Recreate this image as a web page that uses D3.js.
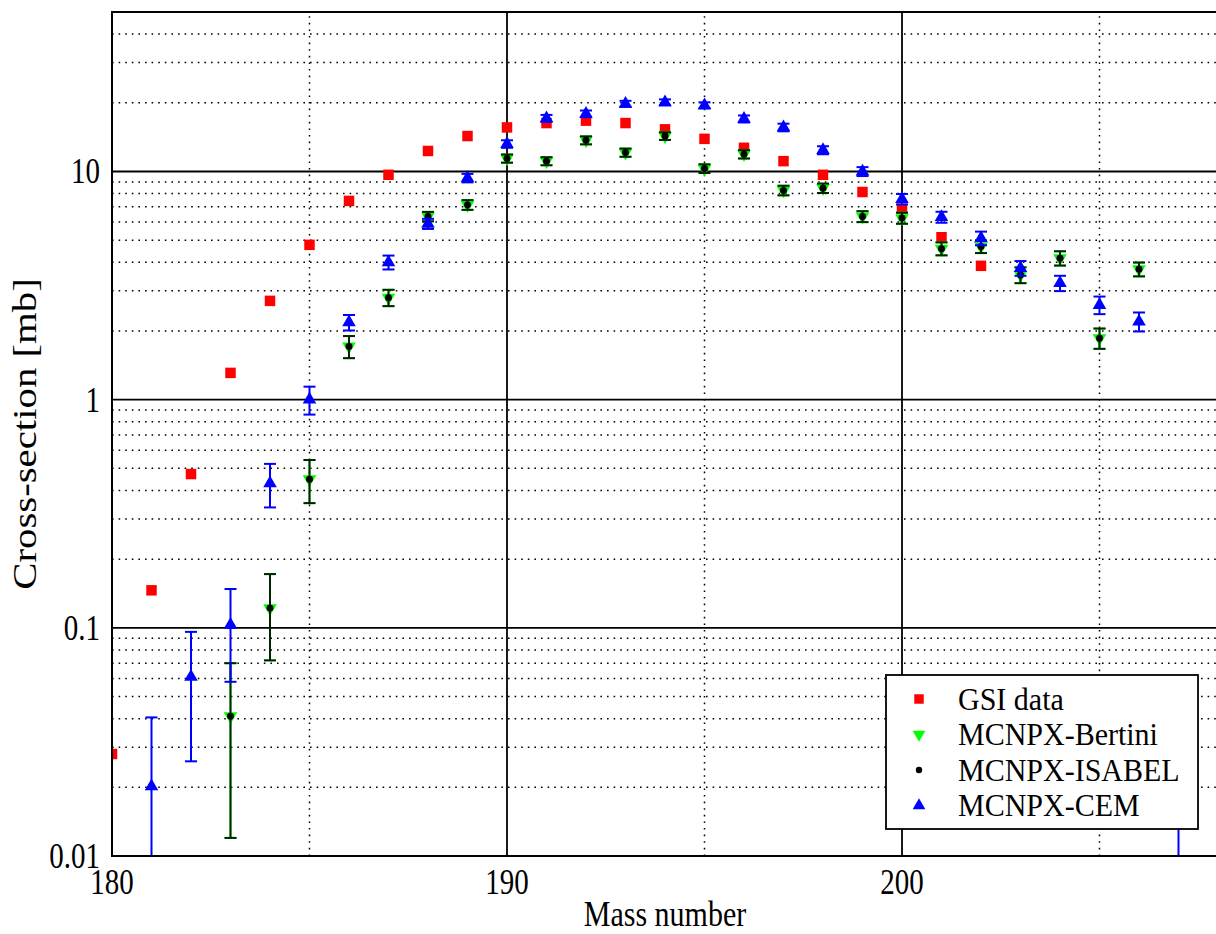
<!DOCTYPE html>
<html>
<head>
<meta charset="utf-8">
<script src="https://cdn.jsdelivr.net/npm/d3@7"></script>
<style>
  body { margin: 0; background: #fff; }
  text { font-family: "Liberation Serif", "Times New Roman", serif; fill: #000; }
</style>
</head>
<body>
<div id="chart"></div>
<script>
// GSI measurement
let gsiMass = [180, 181, 182, 183, 184, 185, 186, 187, 188, 189, 190, 191, 192, 193, 194, 195, 196, 197, 198, 199, 200, 201, 202];
let gsiValues = [0.028, 0.146, 0.472, 1.31, 2.71, 4.77, 7.43, 9.67, 12.3, 14.3, 15.6, 16.3, 16.7, 16.3, 15.3, 13.9, 12.7, 11.1, 9.67, 8.13, 6.86, 5.15, 3.86];

// MCNPX Bertini
let bertiniMass = [183, 184, 185, 186, 187, 188, 189, 190, 191, 192, 193, 194, 195, 196, 197, 198, 199, 200, 201, 202, 203, 204, 205, 206];
let bertiniValues = [0.041, 0.122, 0.448, 1.71, 2.80, 6.35, 7.14, 11.4, 11.1, 13.7, 12.1, 14.3, 10.3, 11.9, 8.26, 8.45, 6.35, 6.25, 4.59, 4.69, 3.52, 4.17, 1.86, 3.73];
let bertiniErrors = [0.029, 0.05, 0.096, 0.19, 0.23, 0.3, 0.35, 0.47, 0.45, 0.55, 0.5, 0.55, 0.45, 0.5, 0.4, 0.4, 0.35, 0.35, 0.3, 0.3, 0.28, 0.3, 0.19, 0.26];

// MCNPX ISABEL
let isabelMass = [183, 184, 185, 186, 187, 188, 189, 190, 191, 192, 193, 194, 195, 196, 197, 198, 199, 200, 201, 202, 203, 204, 205, 206];
let isabelValues = [0.041, 0.122, 0.448, 1.71, 2.80, 6.35, 7.14, 11.4, 11.1, 13.7, 12.1, 14.3, 10.3, 11.9, 8.26, 8.45, 6.35, 6.25, 4.59, 4.69, 3.52, 4.17, 1.86, 3.73];
let isabelErrors = [0.029, 0.05, 0.096, 0.19, 0.23, 0.3, 0.35, 0.47, 0.45, 0.55, 0.5, 0.55, 0.45, 0.5, 0.4, 0.4, 0.35, 0.35, 0.3, 0.3, 0.28, 0.3, 0.19, 0.26];

// MCNPX CEM
let cemMass = [181, 182, 183, 184, 185, 186, 187, 188, 189, 190, 191, 192, 193, 194, 195, 196, 197, 198, 199, 200, 201, 202, 203, 204, 205, 206, 207];
let cemValues = [0.0202, 0.061, 0.103, 0.43, 1.0, 2.18, 4.0, 5.9, 9.36, 13.2, 17.1, 17.9, 19.8, 20.1, 19.5, 17.0, 15.6, 12.4, 10.0, 7.57, 6.31, 5.10, 3.77, 3.24, 2.60, 2.20, 0.006];
let cemErrors = [0.0203, 0.035, 0.045, 0.093, 0.14, 0.17, 0.28, 0.3, 0.4, 0.5, 0.6, 0.6, 0.6, 0.6, 0.6, 0.6, 0.6, 0.5, 0.45, 0.4, 0.35, 0.35, 0.28, 0.25, 0.23, 0.21, 0.0075];

let xTicks = [180, 190, 200];
let xMinorGrid = [185, 195, 205];
let yTicks = [0.01, 0.1, 1, 10];
let yTickLabels = ["0.01", "0.1", "1", "10"];
let legendLabels = ["GSI data", "MCNPX-Bertini", "MCNPX-ISABEL", "MCNPX-CEM"];

let width = 1216;
let height = 934;
let margin = { top: 12, left: 112, right: -2, bottom: 78 };
let stretch = 1.2; // text in the source is a bit taller than wide

let x = d3.scaleLinear()
    .domain([180, 208])
    .range([margin.left, width - margin.right]);

let y = d3.scaleLog()
    .domain([0.01, 50])
    .range([height - margin.bottom, margin.top]);

let svg = d3.select("#chart").append("svg")
    .attr("width", width)
    .attr("height", height);

svg.append("defs").append("clipPath")
    .attr("id", "plot-clip")
    .append("rect")
    .attr("x", x(180))
    .attr("y", y(50))
    .attr("width", x(208) - x(180))
    .attr("height", y(0.01) - y(50));

let grid = svg.append("g").attr("class", "grid");

// minor log grid lines 2..9 in every decade
let minorY = [];
yTicks.forEach(base => {
    for (let m = 2; m <= 9; m++) {
        if (base * m <= 50) minorY.push(base * m);
    }
});

grid.selectAll(".minor-y")
    .data(minorY)
    .enter().append("line")
    .attr("x1", x(180)).attr("x2", x(208))
    .attr("y1", d => y(d)).attr("y2", d => y(d))
    .attr("stroke", "#000")
    .attr("stroke-width", 1.5)
    .attr("stroke-dasharray", "1.6,5");

grid.selectAll(".minor-x")
    .data(xMinorGrid)
    .enter().append("line")
    .attr("x1", d => x(d)).attr("x2", d => x(d))
    .attr("y1", y(0.01)).attr("y2", y(50))
    .attr("stroke", "#000")
    .attr("stroke-width", 1.5)
    .attr("stroke-dasharray", "1.6,5");

grid.selectAll(".major-y")
    .data(yTicks.slice(1))
    .enter().append("line")
    .attr("x1", x(180)).attr("x2", x(208))
    .attr("y1", d => y(d)).attr("y2", d => y(d))
    .attr("stroke", "#000")
    .attr("stroke-width", 1.8);

grid.selectAll(".major-x")
    .data(xTicks.slice(1))
    .enter().append("line")
    .attr("x1", d => x(d)).attr("x2", d => x(d))
    .attr("y1", y(0.01)).attr("y2", y(50))
    .attr("stroke", "#000")
    .attr("stroke-width", 1.8);

let plot = svg.append("g").attr("clip-path", "url(#plot-clip)");

function errorBars(g, mass, values, errors, color, opacity) {
    let rows = mass.map((m, i) => ({ m: m, v: values[i], e: errors[i] }));
    let bars = g.append("g")
        .attr("stroke", color)
        .attr("stroke-width", 2)
        .attr("opacity", opacity);
    bars.selectAll(".stem")
        .data(rows)
        .enter().append("line")
        .attr("x1", d => x(d.m)).attr("x2", d => x(d.m))
        .attr("y1", d => y(d.v + d.e))
        .attr("y2", d => y(Math.max(d.v - d.e, 1e-4)));
    bars.selectAll(".cap-top")
        .data(rows)
        .enter().append("line")
        .attr("x1", d => x(d.m) - 6).attr("x2", d => x(d.m) + 6)
        .attr("y1", d => y(d.v + d.e)).attr("y2", d => y(d.v + d.e));
    bars.selectAll(".cap-bottom")
        .data(rows.filter(d => d.v - d.e > 0))
        .enter().append("line")
        .attr("x1", d => x(d.m) - 6).attr("x2", d => x(d.m) + 6)
        .attr("y1", d => y(d.v - d.e)).attr("y2", d => y(d.v - d.e));
}

let squareSym = d3.symbol().type(d3.symbolSquare).size(110);
let triSym = d3.symbol().type(d3.symbolTriangle).size(80);
let dotSym = d3.symbol().type(d3.symbolCircle).size(38);

function markers(g, mass, values, sym, color, rotate) {
    g.append("g").selectAll("path")
        .data(mass.map((m, i) => ({ m: m, v: values[i] })))
        .enter().append("path")
        .attr("d", sym)
        .attr("fill", color)
        .attr("transform", d => "translate(" + x(d.m) + "," + y(d.v) + ")" + (rotate ? " rotate(180)" : ""));
}

// GSI
markers(plot, gsiMass, gsiValues, squareSym, "#ff0000", false);
// Bertini
errorBars(plot, bertiniMass, bertiniValues, bertiniErrors, "#00ff00", 1);
markers(plot, bertiniMass, bertiniValues, triSym, "#00ff00", true);
// ISABEL
errorBars(plot, isabelMass, isabelValues, isabelErrors, "#000", 0.85);
markers(plot, isabelMass, isabelValues, dotSym, "#000", false);
// CEM
errorBars(plot, cemMass, cemValues, cemErrors, "#0000ff", 1);
markers(plot, cemMass, cemValues, triSym, "#0000ff", false);

// frame
svg.append("rect")
    .attr("x", x(180))
    .attr("y", y(50))
    .attr("width", x(208) - x(180))
    .attr("height", y(0.01) - y(50))
    .attr("fill", "none")
    .attr("stroke", "#000")
    .attr("stroke-width", 2);

function label(txt, px, py, size, anchor, rotate, k) {
    svg.append("g")
        .attr("transform", "translate(" + px + "," + py + ") scale(1," + k + ")" + (rotate ? " rotate(-90)" : ""))
        .append("text")
        .attr("text-anchor", anchor)
        .attr("dy", "0.34em")
        .style("font-size", size + "px")
        .text(txt);
}

yTicks.forEach((t, i) => label(yTickLabels[i], 100, y(t), 29, "end", false, stretch));
xTicks.forEach(t => label(String(t), x(t), 882, 29, "middle", false, stretch));

label("Mass number", (x(180) + x(208)) / 2, 914, 30, "middle", false, stretch);
label("Cross-section [mb]", 24, (y(0.01) + y(50)) / 2, 34, "middle", true, stretch);

// legend
let legend = svg.append("g").attr("transform", "translate(886,675)");
legend.append("rect")
    .attr("width", 312)
    .attr("height", 154)
    .attr("fill", "#fff")
    .attr("stroke", "#000")
    .attr("stroke-width", 1.8);

let legendSyms = [
    { sym: d3.symbol().type(d3.symbolSquare).size(90), color: "#ff0000", rot: false },
    { sym: d3.symbol().type(d3.symbolTriangle).size(70), color: "#00ff00", rot: true },
    { sym: d3.symbol().type(d3.symbolCircle).size(32), color: "#000", rot: false },
    { sym: d3.symbol().type(d3.symbolTriangle).size(70), color: "#0000ff", rot: false }
];

legendLabels.forEach((name, i) => {
    let cy = 24 + i * 35.5;
    legend.append("path")
        .attr("d", legendSyms[i].sym)
        .attr("fill", legendSyms[i].color)
        .attr("transform", "translate(33," + cy + ")" + (legendSyms[i].rot ? " rotate(180)" : ""));
    legend.append("g")
        .attr("transform", "translate(72," + cy + ") scale(1,1.05)")
        .append("text")
        .attr("dy", "0.34em")
        .style("font-size", "30px")
        .text(name);
});
</script>
</body>
</html>
